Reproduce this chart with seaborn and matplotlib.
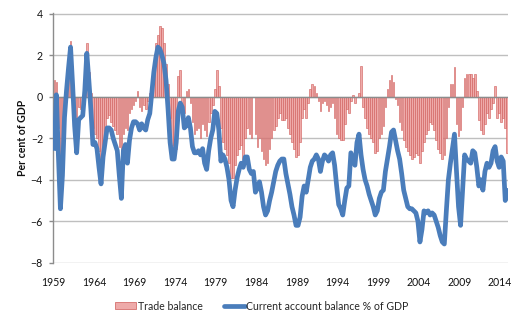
import numpy as np
import pandas as pd
import matplotlib
matplotlib.use("Agg")
import matplotlib.pyplot as plt
from matplotlib.patches import Patch
from matplotlib.lines import Line2D
import seaborn as sns

# Quarterly series, starting September quarter 1959
start_year = 1959
trade_balance = [
    0.8, 0.7, -1.5, -3.5, -2.5, -0.5, 0.6, 1.6, 2.7, 1.5,
    -1.0, -2.0, -0.5, -0.6, -0.3, 0.5, 2.6, 1.2, 0.2, -1.5,
    -1.8, -2.0, -2.6, -3.0, -2.5, -1.8, -1.0, -0.9, -1.2, -1.4,
    -1.6, -1.8, -2.4, -3.0, -1.8, -1.5, -1.6, -0.8, -0.6, -0.4,
    -0.2, 0.3, -0.5, -0.7, -0.4, -0.6, -0.2, 0.2, 0.5, 1.6,
    2.6, 3.0, 3.4, 3.3, 2.6, 1.6, 0.6, -1.0, -2.3, -2.8,
    -2.5, 1.0, 1.3, -0.5, -0.8, 0.3, 0.4, -0.3, -1.2, -1.8,
    -1.6, -1.5, -2.0, -1.3, -1.6, -1.9, -1.2, -0.8, -0.4, 0.4,
    1.3, 0.5, -1.5, -2.2, -2.5, -2.8, -3.2, -3.9, -3.9, -3.3,
    -2.8, -2.5, -2.3, -3.0, -2.0, -1.5, -1.8, -2.0, 0.0, -1.8,
    -2.4, -2.0, -2.6, -3.0, -3.3, -3.2, -2.5, -2.0, -1.6, -1.4,
    -1.0, -0.8, -1.1, -1.1, -1.0, -1.5, -1.8, -2.2, -2.5, -2.9, -2.8,
    -2.2, -1.0, -0.6, -1.0, -0.3, 0.4, 0.6, 0.5, 0.2, -0.2,
    -0.7, -0.3, -0.2, -0.4, -0.7, -0.5, -0.3, -1.0, -1.8, -2.0,
    -2.1, -2.1, -1.3, -0.6, -0.8, -0.2, 0.1, -0.3, 0.0, 0.2,
    1.5, -0.5, -1.0, -1.5, -1.8, -2.0, -2.2, -2.7, -2.6, -2.0,
    -1.8, -1.4, -0.5, 0.4, 0.8, 1.06, 0.7, -0.1, -0.4, -1.2,
    -1.6, -2.1, -2.4, -2.6, -2.8, -3.0, -2.9, -2.7, -2.8, -3.2,
    -2.6, -2.2, -1.8, -1.6, -1.2, -1.3, -1.6, -2.1, -2.5, -2.7,
    -3.0, -2.8, -2.0, -0.5, 0.6, 0.6, 1.45, -1.3, -1.9, -1.6,
    -0.5, 0.9, 1.1, 1.1, 1.1, 0.9, 1.1, 0.3, -1.1, -1.6,
    -1.8, -1.3, -0.8, -1.0, -0.6, -0.3, 0.5, -1.0, -0.8, -1.2,
    -1.0, -1.5, -2.7,
]
current_account = [
    -2.6, 0.1, -2.8, -5.4, -3.8, -1.0, 0.3, 1.4, 2.4, 0.6,
    -1.4, -2.7, -1.1, -1.0, -0.9, 0.3, 2.1, 0.8, -0.6, -2.3,
    -2.2, -2.5, -3.4, -4.2, -2.9, -2.2, -1.5, -1.5, -1.6, -2.0,
    -2.3, -2.6, -3.8, -4.9, -2.6, -2.3, -3.2, -2.1, -1.5, -1.2,
    -1.2, -1.3, -1.6, -1.3, -1.5, -1.6, -1.1, -0.8, 0.2, 1.2,
    1.9, 2.4, 2.3, 2.0, 1.6, 0.8, -0.6, -2.2, -3.0, -3.0,
    -2.2, -0.7, -0.3, -0.5, -1.5, -1.4, -1.0, -1.5, -2.4, -2.7,
    -2.7, -2.6, -2.8, -2.5, -3.2, -3.5, -2.6, -2.0, -1.6, -0.7,
    -0.8, -1.6, -3.1, -2.8, -3.0, -3.4, -4.0, -5.0, -5.3, -4.5,
    -3.9, -3.5, -3.2, -3.4, -2.9, -2.9, -3.5, -3.7, -3.6, -4.6,
    -4.4, -4.1, -4.6, -5.3, -5.7, -5.5, -5.0, -4.6, -4.1, -3.6,
    -3.3, -3.1, -3.0, -3.0, -3.7, -4.2, -4.7, -5.3, -5.7, -6.2, -6.2,
    -5.8, -4.8, -4.3, -4.6, -4.0, -3.4, -3.1, -3.0, -2.8, -3.0,
    -3.6, -3.1, -2.8, -2.9, -3.1, -2.8, -2.7, -3.3, -4.3, -5.2,
    -5.4, -5.7, -5.0, -4.4, -4.3, -2.7, -3.0, -3.3, -2.2, -1.8,
    -2.8, -3.5, -4.0, -4.3, -4.7, -5.0, -5.3, -5.7, -5.5, -4.9,
    -4.6, -4.5, -3.6, -3.0, -2.4, -1.7, -1.6, -2.1, -2.6, -3.0,
    -3.7, -4.5, -4.9, -5.3, -5.4, -5.4, -5.5, -5.6, -6.0, -7.0,
    -6.4, -5.5, -5.6, -5.5, -5.7, -5.6, -5.7, -6.0, -6.3, -6.7,
    -7.0, -7.1, -5.5, -4.0, -3.2, -2.5, -1.8, -3.6, -5.3, -6.2,
    -4.5, -2.8, -3.0, -3.1, -3.2, -2.6, -2.7, -3.4, -4.3, -4.0,
    -4.5, -3.6, -3.2, -3.4, -3.2, -2.6, -2.4, -3.1, -3.4, -2.9,
    -3.1, -5.0, -4.4,
]
year_step = 5
tb_label = "Trade balance"
ca_label = "Current account balance % of GDP"

n = len(current_account)
df = pd.DataFrame({"q": np.arange(n), "tb": trade_balance, "ca": current_account})

sns.set_theme(style="white")
plt.rcParams["font.family"] = ["Lato", "DejaVu Sans"]

W, H = 522, 324
fig = plt.figure(figsize=(W / 100, H / 100), dpi=100)
ax = fig.add_axes([53.3 / W, 1 - 263.3 / H, 455 / W, 250 / H])

bar_face = "#eeaaa9"
bar_edge = "#cf5a58"
line_col = "#4a7dbb"
grid_col = "#bfbfbf"
axis_col = "#8c8c8c"

sns.barplot(data=df, x="q", y="tb", native_scale=True, width=0.8,
            color=bar_face, edgecolor=bar_edge, linewidth=0.4,
            saturation=1, ax=ax, zorder=2)
ax.axhline(0, color=axis_col, lw=1.0, zorder=3)
sns.lineplot(data=df, x="q", y="ca", color=line_col, lw=3.4, ax=ax,
             zorder=4, solid_joinstyle="round", solid_capstyle="butt")

ax.set_xlim(-0.5, n - 0.5)
ax.set_ylim(-8.03, 4.03)
ax.set_yticks(range(-8, 5, 2))
ax.yaxis.grid(True, color=grid_col, lw=1.0)
ax.xaxis.grid(False)
ax.set_axisbelow(True)

years = list(range(start_year, start_year + n // 4 + 1, year_step))
ticks = [-0.5 + 4 * (y - start_year) for y in years]
ax.set_xticks(ticks)
ax.set_xticklabels([str(y) for y in years])

for s in ["top", "right", "bottom"]:
    ax.spines[s].set_visible(False)
ax.spines["left"].set_color(axis_col)
ax.spines["left"].set_linewidth(1.0)

ax.tick_params(axis="y", left=True, length=3, width=1, color=axis_col,
               pad=4.5, labelsize=7.6, labelcolor="#111111")
ax.tick_params(axis="x", bottom=False, length=0, pad=10,
               labelsize=7.6, labelcolor="#111111")
ax.set_xlabel("")
ax.set_ylabel("")
fig.text(22.5 / W, 1 - 138 / H, "Per cent of GDP", rotation=90,
         ha="center", va="center", fontsize=7.6, fontweight="bold",
         color="#111111")

handles = [
    Patch(facecolor=bar_face, edgecolor=bar_edge, linewidth=0.5),
    Line2D([0], [0], color=line_col, lw=3.4),
]
fig.legend(handles, [tb_label, ca_label], loc="center",
           bbox_to_anchor=(262 / W, 1 - 306 / H), ncol=2, frameon=False,
           fontsize=7.6, handlelength=2.0, handleheight=0.6,
           handletextpad=0.15, columnspacing=2.0, borderaxespad=0)

fig.savefig("out.png", dpi=100)
